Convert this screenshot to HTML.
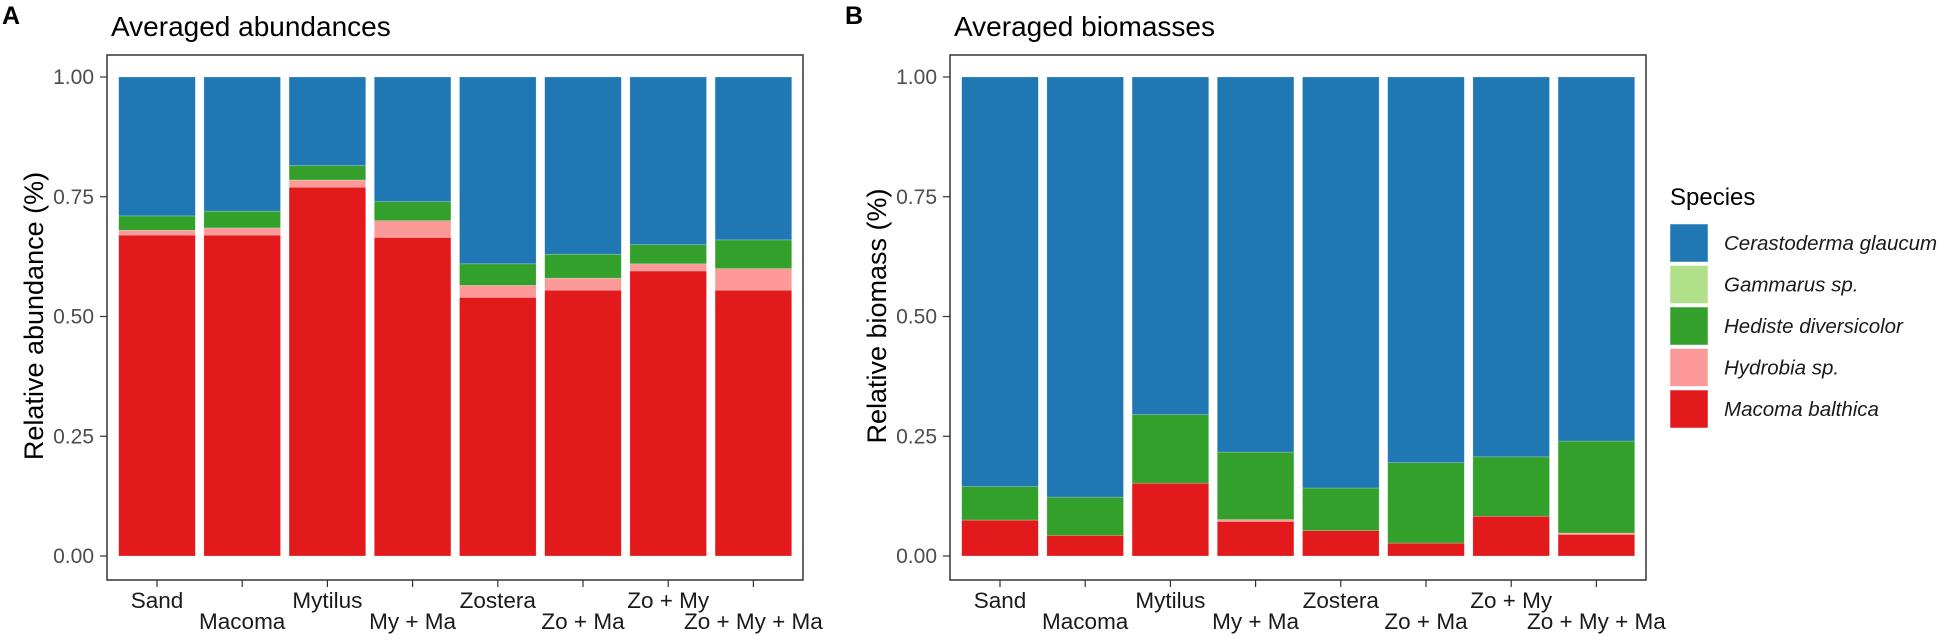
<!DOCTYPE html>
<html><head><meta charset="utf-8"><style>body{margin:0;background:#fff}svg{display:block}</style></head>
<body>
<svg xmlns="http://www.w3.org/2000/svg" width="1949" height="640" viewBox="0 0 1949 640" font-family="Liberation Sans, Arial, sans-serif">
<rect width="1949" height="640" fill="#fff"/>
<script>
(function(){
var NS="http://www.w3.org/2000/svg", svg=document.querySelector("svg");
function el(t,a,txt){var e=document.createElementNS(NS,t);for(var k in a)e.setAttribute(k,a[k]);if(txt!=null)e.textContent=txt;svg.appendChild(e);return e;}
var C={b:"#1f78b4",lg:"#b2df8a",g:"#33a02c",p:"#fb9a99",r:"#e31a1c"};
var labs=["Sand","Macoma","Mytilus","My + Ma","Zostera","Zo + Ma","Zo + My","Zo + My + Ma"];
function Y(v){return 556-479*v;}
function panel(ox,letter,title,ytitle,data){
  el("text",{x:ox+2,y:24,"font-size":25,"font-weight":"bold",fill:"#000"},letter);
  el("text",{x:ox+111,y:36,"font-size":28,fill:"#000"},title);
  el("text",{x:0,y:0,"font-size":27,fill:"#000","text-anchor":"middle",transform:"translate("+(ox+43)+",316) rotate(-90)"},ytitle);
  [0,0.25,0.5,0.75,1].forEach(function(v){
    el("text",{x:ox+94,y:Y(v)+7,"font-size":21,fill:"#4d4d4d","text-anchor":"end"},v.toFixed(2));
    el("line",{x1:ox+100,x2:ox+107,y1:Y(v),y2:Y(v),stroke:"#333","stroke-width":1.2});
  });
  data.forEach(function(d,i){
    var cx=ox+157+85.2*i, x=cx-38.3, w=76.6;
    var segs=[[0,d[0],C.r],[d[0],d[1],C.p],[d[1],d[2],C.g],[d[2],1,C.b]];
    segs.forEach(function(s){ if(s[1]>s[0]) el("rect",{x:x,y:Y(s[1]),width:w,height:Y(s[0])-Y(s[1]),fill:s[2],stroke:"rgba(255,255,255,0.35)","stroke-width":0.6}); });
    el("line",{x1:cx,x2:cx,y1:580,y2:587,stroke:"#333","stroke-width":1.2});
    el("text",{x:cx,y:i%2?629:608,"font-size":22.5,fill:"#1a1a1a","text-anchor":"middle"},labs[i]);
  });
  el("rect",{x:ox+107,y:55,width:696,height:525,fill:"none",stroke:"#333","stroke-width":1.5});
}
panel(0,"A","Averaged abundances","Relative abundance (%)",[
 [.67,.68,.71],[.67,.685,.72],[.77,.785,.815],[.665,.70,.74],[.54,.565,.61],[.555,.58,.63],[.595,.61,.65],[.555,.60,.66]]);
panel(843,"B","Averaged biomasses","Relative biomass (%)",[
 [.075,.075,.145],[.043,.043,.123],[.152,.152,.295],[.072,.076,.217],[.053,.053,.142],[.027,.027,.195],[.083,.083,.207],[.045,.048,.24]]);
el("text",{x:1670,y:205,"font-size":24,fill:"#000"},"Species");
var L=[["b","Cerastoderma glaucum"],["lg","Gammarus sp."],["g","Hediste diversicolor"],["p","Hydrobia sp."],["r","Macoma balthica"]];
L.forEach(function(l,i){var y=224+41.5*i;
  el("rect",{x:1670,y:y,width:38,height:38,fill:C[l[0]],stroke:"rgba(255,255,255,0.5)","stroke-width":1});
  el("text",{x:1724,y:y+26,"font-size":20.5,"font-style":"italic",fill:"#1a1a1a"},l[1]);});
})();
</script>
</svg>
</body></html>
